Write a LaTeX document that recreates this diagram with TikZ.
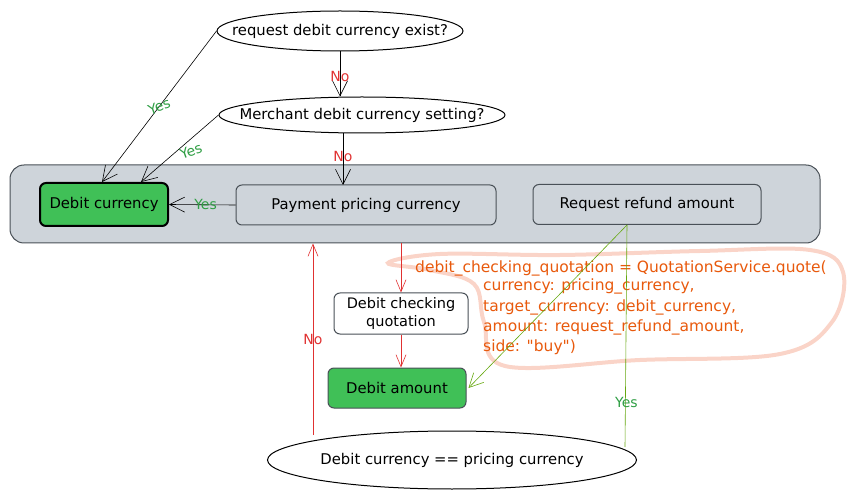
\documentclass[tikz,border=0pt]{standalone}
\usepackage{fontspec}
\setmainfont{DejaVu Sans}
\newfontfamily\codefont{DejaVu Sans}
\usetikzlibrary{arrows.meta,positioning,shapes.geometric}
\definecolor{panelgrey}{HTML}{CED4DA}
\definecolor{edgegrey}{HTML}{495057}
\definecolor{okgreen}{HTML}{40C057}
\definecolor{yesgreen}{HTML}{2F9E44}
\definecolor{linegreen}{HTML}{66A80F}
\definecolor{nored}{HTML}{E03131}
\definecolor{codeorange}{HTML}{E8590C}
\definecolor{scribble}{HTML}{FAD4C8}

\begin{document}
\begin{tikzpicture}[x=1pt, y=-1pt,
  font=\fontsize{14.8}{17}\selectfont,
  panel/.style={draw=edgegrey, fill=panelgrey, rounded corners=14pt, line width=1pt, minimum width=810pt, minimum height=78pt},
  box/.style={draw=edgegrey, fill=panelgrey, rounded corners=6pt, line width=1pt, minimum height=40pt, align=center},
  result/.style={draw=black, fill=okgreen, rounded corners=6pt, line width=1pt, minimum height=41pt, align=center},
  decision/.style={draw, ellipse, line width=1pt, inner xsep=-45pt, inner ysep=-10pt, fill=white},
  arrow/.style={-{Straight Barb[length=15pt, width=15pt]}, line width=0.6pt},
  redarrow/.style={-{Straight Barb[length=12pt, width=10pt]}, draw=nored, line width=0.6pt},
  greenarrow/.style={-{Straight Barb[length=14pt, width=14pt]}, draw=linegreen, line width=0.6pt},
  yes/.style={text=yesgreen, font=\fontsize{14}{15}\selectfont},
  no/.style={text=nored, font=\fontsize{14}{15}\selectfont},
  code/.style={text=codeorange, font=\codefont\fontsize{15.5}{20.3}\selectfont, inner sep=0pt}
]
\useasboundingbox (0,0) rectangle (852,497);

% container row
\node[panel] (panel) at (415,204) {};
\node[result, line width=2pt, minimum width=128pt, minimum height=43pt] (dc) at (104,204.5) {Debit currency};
\node[box, minimum width=260pt] (ppc) at (366,205) {Payment pricing currency};
\node[box, minimum width=228pt] (rr) at (647,204.5) {Request refund amount};

% decisions
\node[decision, minimum width=246pt, minimum height=40pt] (q1) at (340,31) {request debit currency exist?};
\node[decision, minimum width=286pt, minimum height=36pt] (q2) at (362,115) {Merchant debit currency setting?};
\node[decision, minimum width=369pt, minimum height=58pt] (eq) at (452,460) {Debit currency == pricing currency};

% quotation steps
\node[box, fill=white, minimum width=134pt, minimum height=41pt, inner sep=2pt,
      font=\fontsize{14.5}{18}\selectfont] (dcq) at (401,313.5) {Debit checking\\quotation};
\node[result, minimum width=138pt, minimum height=40pt, draw=edgegrey] (da) at (397,388) {Debit amount};

% scribbled note
\draw[scribble, line width=4pt, line cap=round]
  plot[smooth cycle, tension=0.6] coordinates {(388,263) (440,254) (560,255) (700,251) (810,250) (843,272)
    (832,322) (780,354) (640,360) (505,366) (484,322) (474,284) (430,270)};
\node[code, anchor=west] (call) at (415,268) {debit\_checking\_quotation = QuotationService.quote(};
\node[code, anchor=north west, align=left] (args) at (483,279)
  {currency: pricing\_currency,\\target\_currency: debit\_currency,\\amount: request\_refund\_amount,\\side: "buy")};

% connectors
\coordinate (pin) at (343,185);
\draw[arrow] (q1.south) -- node[no, pos=0.55] {No} (q1.south |- q2.north);
\draw[arrow] (q2.south -| pin) -- node[no, pos=0.45] {No} (pin);
\draw[arrow] (q1.west) -- node[yes, pos=0.5, rotate=20] {Yes} ([xshift=-2pt]dc.north);
\draw[arrow] (q2.west) -- node[yes, pos=0.55, rotate=20, below right=-4pt and -2pt] {Yes} ([xshift=37pt]dc.north);
\draw[arrow] (ppc.west) -- node[yes, pos=0.45] {Yes} (dc.east);
\draw[redarrow] (dcq.north |- panel.south) -- (dcq.north);
\draw[redarrow] (dcq.south) -- (dcq.south |- da.north);
\coordinate (nostart) at (313,435);
\draw[redarrow] (nostart) -- node[no, pos=0.5] {No} (nostart |- panel.south);
\draw[greenarrow] ([xshift=-20pt]rr.south) -- ([xshift=2pt]da.east);
\coordinate (yesend) at (625,447);
\draw[draw=linegreen, line width=0.6pt] (yesend) -- node[yes, pos=0.2, xshift=1pt] {Yes} ([xshift=-20pt]rr.south);
\end{tikzpicture}
\end{document}
